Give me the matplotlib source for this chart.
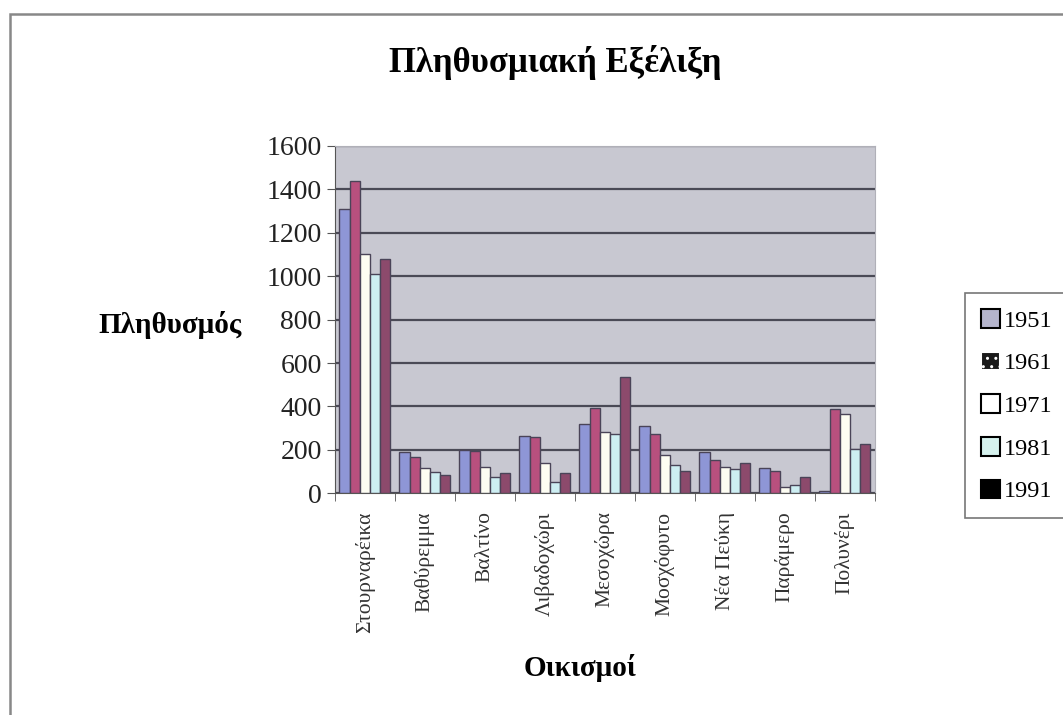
import matplotlib.pyplot as plt
import numpy as np
from matplotlib.patches import Patch, Rectangle

plt.rcParams['font.family'] = ['Liberation Serif', 'DejaVu Serif']

villages = ['Στουρναρέικα', 'Βαθύρεμμα', 'Βαλτίνο', 'Λιβαδοχώρι', 'Μεσοχώρα',
            'Μοσχόφυτο', 'Νέα Πεύκη', 'Παράμερο', 'Πολυνέρι']
years = ['1951', '1961', '1971', '1981', '1991']

pop_1951 = [1310, 190, 200, 265, 320, 310, 190, 118, 10]
pop_1961 = [1440, 167, 195, 260, 395, 272, 152, 103, 390]
pop_1971 = [1100, 118, 120, 140, 283, 175, 121, 30, 367]
pop_1981 = [1010, 98, 75, 52, 272, 129, 114, 40, 206]
pop_1991 = [1077, 83, 94, 94, 536, 103, 140, 75, 229]

series = [pop_1951, pop_1961, pop_1971, pop_1981, pop_1991]
bar_colors = ['#8e96d6', '#b8507e', '#fdfdf2', '#cdeef2', '#8c4a6c']
legend_colors = ['#b4b4cc', '#1a1a1a', '#ffffff', '#d6f2ee', '#000000']

fig = plt.figure(figsize=(10.63, 7.15), dpi=100)
ax = fig.add_axes([0.315, 0.31, 0.508, 0.486])
ax.set_facecolor('#c8c8d1')

x = np.arange(len(villages))
w = 0.17
for i, vals in enumerate(series):
    ax.bar(x + (i - 2) * w, vals, width=w, color=bar_colors[i],
           edgecolor='#4a4458', linewidth=1.0, zorder=3)

ax.set_ylim(0, 1600)
ax.set_xlim(-0.5, len(villages) - 0.5)
ax.set_yticks(range(0, 1601, 200))
ax.yaxis.grid(True, color='#4a4a56', linewidth=1.6, zorder=1)
ax.tick_params(axis='y', labelsize=20, length=6, color='#555555', labelcolor='#222222')

ax.set_xticks(x)
ax.set_xticklabels(villages, rotation=90, fontsize=15.5, color='#333333')
ax.set_xticks(np.arange(-0.5, len(villages)), minor=True)
ax.tick_params(axis='x', which='major', length=0, pad=13)
ax.tick_params(axis='x', which='minor', length=6, color='#555555')

for s in ['top', 'right']:
    ax.spines[s].set_color('#b0b0b8')
ax.spines['left'].set_color('#555555')
ax.spines['bottom'].set_color('#555555')

fig.text(0.522, 0.913, 'Πληθυσμιακή Εξέλιξη', ha='center', va='center',
         fontsize=25, fontweight='bold')
fig.text(0.160, 0.545, 'Πληθυσμός', ha='center', va='center',
         fontsize=21, fontweight='bold')
fig.text(0.546, 0.066, 'Οικισμοί', ha='center', va='center',
         fontsize=21, fontweight='bold')

handles = [Patch(facecolor=c, edgecolor='black', linewidth=1.5) for c in legend_colors]
handles[1].set_hatch('..')
handles[1].set_edgecolor('white')
leg = fig.legend(handles, years, loc='upper left', bbox_to_anchor=(0.908, 0.590),
                 borderaxespad=0, fontsize=17.5, frameon=True, fancybox=False,
                 edgecolor='#555555', handlelength=0.8, handleheight=0.8,
                 handletextpad=0.15, labelspacing=0.82, borderpad=0.65)
leg.get_frame().set_linewidth(1.2)

fig.patches.append(Rectangle((0.0094, -0.05), 1.2, 1.03, transform=fig.transFigure,
                             fill=False, edgecolor='#888888', linewidth=1.8))

fig.savefig('out.png', dpi=100)
